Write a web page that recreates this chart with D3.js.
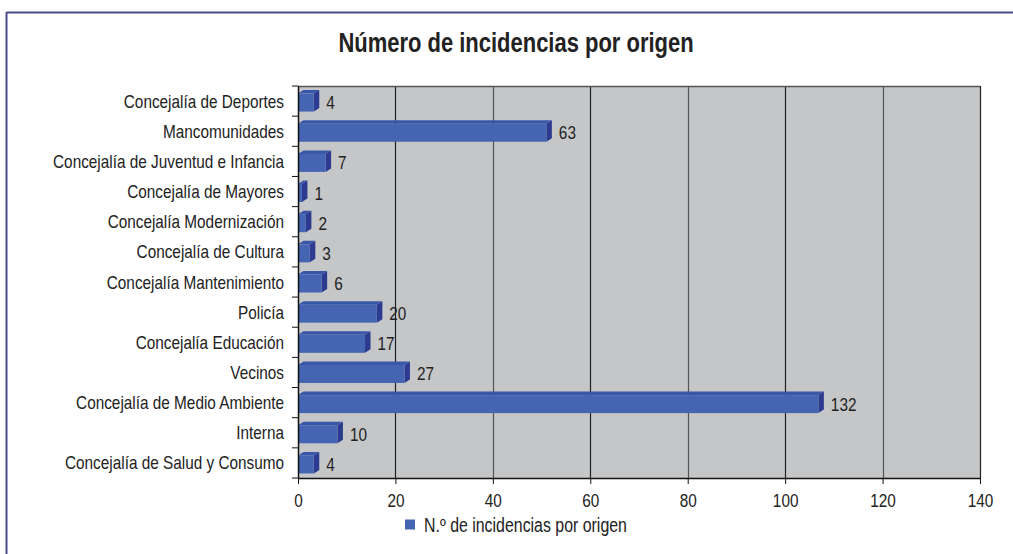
<!DOCTYPE html>
<html><head><meta charset="utf-8">
<script src="https://cdn.jsdelivr.net/npm/d3@7"></script>
<style>
html,body{margin:0;padding:0;background:#fff;}
svg{display:block;}
text{font-family:"Liberation Sans",Arial,sans-serif;fill:#222;}
</style></head><body>
<svg id="c" width="1013" height="554"></svg>
<script>
const categories = ["Concejalía de Deportes","Mancomunidades","Concejalía de Juventud e Infancia","Concejalía de Mayores","Concejalía Modernización","Concejalía de Cultura","Concejalía Mantenimiento","Policía","Concejalía Educación","Vecinos","Concejalía de Medio Ambiente","Interna","Concejalía de Salud y Consumo"];
const values = [4,63,7,1,2,3,6,20,17,27,132,10,4];
const xTicks = [0,20,40,60,80,100,120,140];
const title = "Número de incidencias por origen";
const seriesName = "N.º de incidencias por origen";

const NARROW = 0.82;
const svg = d3.select("#c");
const L = 298, R = 980, T = 86, B = 478;

// place text at (x,y) with a horizontally condensed face
function ntext(parent, x, y, str, size, anchor, weight) {
  return parent.append("text")
    .attr("transform", `translate(${x},${y}) scale(${NARROW},1)`)
    .attr("text-anchor", anchor || "start")
    .attr("dominant-baseline", "central")
    .attr("font-size", size)
    .attr("font-weight", weight || "normal")
    .text(str);
}

// frame
svg.append("line").attr("x1",6.5).attr("x2",1013).attr("y1",12.5).attr("y2",12.5).attr("stroke","#4b4a8c").attr("stroke-width",2);
svg.append("line").attr("x1",6.5).attr("x2",6.5).attr("y1",12).attr("y2",554).attr("stroke","#4b4a8c").attr("stroke-width",2);

ntext(svg, 516, 43, title, 26.8, "middle", "bold").attr("fill","#111");

const x = d3.scaleLinear().domain([0,140]).range([L,R]);
// bars are drawn on a foreshortened (3D) plane
const xBar = d3.scaleLinear().domain([0,173]).range([L,R]);
const y = d3.scaleBand().domain(categories).range([T,B]);

svg.append("rect").attr("x",L).attr("y",T).attr("width",R-L).attr("height",B-T).attr("fill","#c5c6c8");

// gridlines
svg.append("g").selectAll("line").data(xTicks.slice(1)).join("line")
  .attr("x1",d=>Math.round(x(d))+0.5).attr("x2",d=>Math.round(x(d))+0.5)
  .attr("y1",T).attr("y2",B).attr("stroke",(d,i)=>i%2? "#555":"#222").attr("stroke-width",1.2);
svg.append("line").attr("x1",L).attr("x2",R).attr("y1",T+0.5).attr("y2",T+0.5).attr("stroke","#555").attr("stroke-width",1.5);

// bars
const dx = 5.5, dy = 3.5, h = 18;
const g = svg.append("g");
categories.forEach((c,i)=>{
  const v = values[i];
  const x0 = xBar(0), x1 = xBar(v);
  const yt = y(c) + y.bandwidth()/2 - h/2 + 1.5;
  g.append("path").attr("d",`M${x0},${yt} L${x0+dx},${yt-dy} L${x1+dx},${yt-dy} L${x1},${yt} Z`).attr("fill","#3a56a8");
  g.append("path").attr("d",`M${x1},${yt} L${x1+dx},${yt-dy} L${x1+dx},${yt+h-dy} L${x1},${yt+h} Z`).attr("fill","#2c3b8f");
  g.append("rect").attr("x",x0).attr("y",yt).attr("width",Math.max(0,x1-x0)).attr("height",h).attr("fill","#4564b1");
  ntext(g, x1+dx+7, yt+h/2+0.5, v, 18.7, "start");
});

// axes
const yAx = svg.append("g").attr("transform",`translate(${L},0)`);
yAx.append("line").attr("x1",0.5).attr("x2",0.5).attr("y1",T).attr("y2",B).attr("stroke","#111").attr("stroke-width",1.5);
yAx.selectAll("line.t").data(d3.range(categories.length+1)).join("line").attr("class","t")
  .attr("x1",-6).attr("x2",0).attr("y1",i=>T+i*y.step()).attr("y2",i=>T+i*y.step()).attr("stroke","#111");
categories.forEach(c=>ntext(yAx, -14, y(c)+y.bandwidth()/2+0.5, c, 18.7, "end"));

const xAx = svg.append("g").attr("transform",`translate(0,${B})`)
  .call(d3.axisBottom(x).tickValues(xTicks).tickSize(6).tickSizeOuter(0).tickPadding(10));
xAx.select(".domain").attr("stroke","#111").attr("stroke-width",1.5);
xAx.selectAll(".tick line").attr("stroke","#111");
xAx.selectAll(".tick text").attr("font-size",18.7).attr("font-family",null).attr("fill","#222")
  .attr("transform",`scale(${NARROW},1)`);

// legend
svg.append("rect").attr("x",405).attr("y",519.5).attr("width",10).attr("height",10).attr("fill","#4564b1");
ntext(svg, 424, 525, seriesName, 19.4, "start");
</script></body></html>
